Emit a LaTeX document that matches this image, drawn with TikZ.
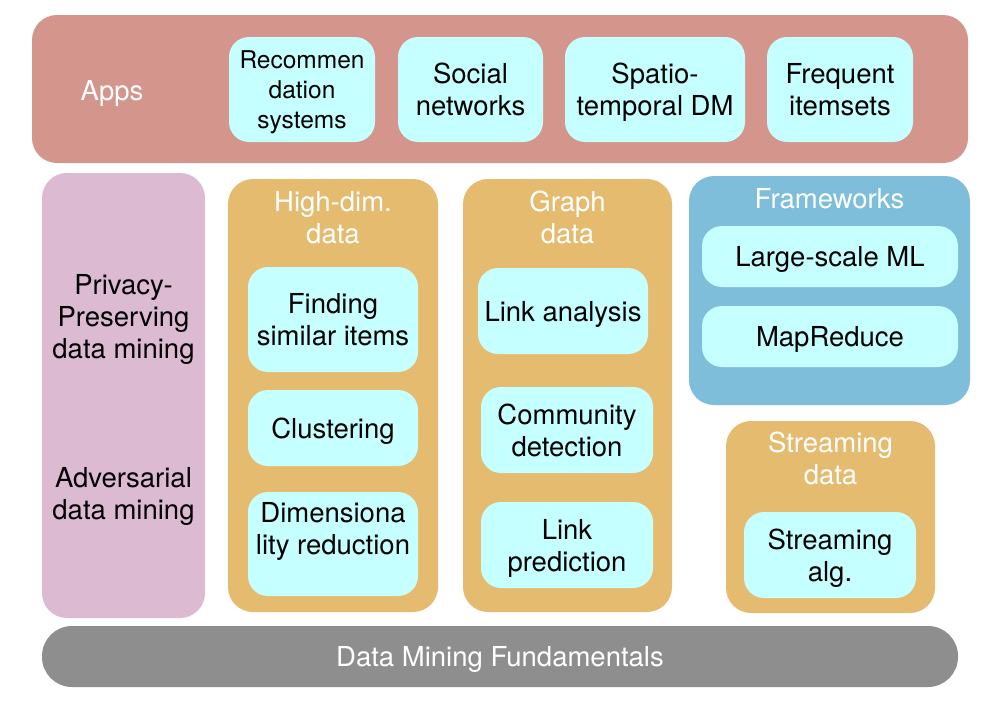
\documentclass[tikz,border=0pt]{standalone}
\usepackage{fontspec}
\setmainfont{TeX Gyre Heros}
\usepackage{xcolor}
\usetikzlibrary{positioning}

\definecolor{appsred}{HTML}{D4958C}
\definecolor{sidepink}{HTML}{DCBBD2}
\definecolor{dataorange}{HTML}{E5BB70}
\definecolor{frameblue}{HTML}{7EBEDA}
\definecolor{itemcyan}{HTML}{C5FFFF}
\definecolor{basegray}{HTML}{8E8E8E}

\begin{document}
\begin{tikzpicture}[
    x=0.5pt, y=-0.5pt,
    layer/.style={rectangle, rounded corners=12.5pt, inner sep=0pt},
    group/.style={layer, fill=dataorange},
    item/.style={rectangle, rounded corners=10pt, fill=itemcyan, inner sep=0pt, text=black, align=center, text depth=0pt, font=\fontsize{13.75}{16}\selectfont},
    heading/.style={text=white, align=center, text depth=0pt, font=\fontsize{13.75}{16}\selectfont},
    sidetext/.style={text=black, align=center, text depth=0pt, font=\fontsize{13.75}{16}\selectfont}
]
    \useasboundingbox (0,0) rectangle (989,712);

    \node[layer, fill=appsred, minimum width=468pt, minimum height=74pt] (apps) at (500,89) {};
    \node[heading] (appstitle) at (112,90) {Apps};
    \node[item, minimum width=73pt, minimum height=52.5pt, font=\fontsize{12.25}{15}\selectfont] (recsys) at (302,89.5) {Recommen\\dation\\systems};
    \node[item, minimum width=72.5pt, minimum height=52.5pt] (social) at (470.5,89.5) {Social\\networks};
    \node[item, minimum width=90pt, minimum height=52.5pt] (spatio) at (655,89.5) {Spatio-\\temporal DM};
    \node[item, minimum width=73pt, minimum height=52.5pt] (freq) at (840,89.5) {Frequent\\itemsets};

    \node[layer, fill=sidepink, minimum width=81.5pt, minimum height=222.5pt] (side) at (123.5,395.5) {};
    \node[sidetext] (privacy) at (123.5,316) {Privacy-\\Preserving\\data mining};
    \node[sidetext] (advers) at (123.5,493) {Adversarial\\data mining};

    \node[group, minimum width=105pt, minimum height=216.5pt] (highdim) at (333,395.5) {};
    \node[heading] (hdtitle) at (333,217) {High-dim.\\data};
    \node[item, minimum width=85pt, minimum height=52.5pt] (similar) at (333,319.5) {Finding\\similar items};
    \node[item, minimum width=85pt, minimum height=38pt] (cluster) at (333,428) {Clustering};
    \node[item, minimum width=85pt, minimum height=52pt] (dimred) at (333,544) {Dimensiona\\lity reduction\\\mbox{}};

    \node[group, minimum width=104.5pt, minimum height=216.5pt] (graph) at (567.5,395.5) {};
    \node[heading] (gtitle) at (567.5,217) {Graph\\data};
    \node[item, minimum width=85pt, minimum height=43pt] (linkana) at (563,311) {Link analysis};
    \node[item, minimum width=86pt, minimum height=43pt] (commun) at (567,430) {Community\\detection};
    \node[item, minimum width=86pt, minimum height=43pt] (linkpred) at (567,545) {Link\\prediction};

    \node[layer, fill=frameblue, minimum width=140.5pt, minimum height=114.5pt] (frame) at (829.5,290.5) {};
    \node[heading] (ftitle) at (829.5,198) {Frameworks};
    \node[item, minimum width=128pt, minimum height=30.5pt] (largeml) at (830,256.5) {Large-scale ML};
    \node[item, minimum width=128pt, minimum height=30.5pt] (mapred) at (830,336.5) {MapReduce};

    \node[group, minimum width=104.5pt, minimum height=96pt] (stream) at (830.5,517) {};
    \node[heading] (stitle) at (830.5,458) {Streaming\\data};
    \node[item, minimum width=86pt, minimum height=43pt] (streamalg) at (830,555) {Streaming\\alg.};

    \node[rectangle, rounded corners=15pt, fill=basegray, inner sep=0pt, minimum width=458pt, minimum height=30.5pt, heading] (base) at (500,656.5) {Data Mining Fundamentals};
\end{tikzpicture}
\end{document}
